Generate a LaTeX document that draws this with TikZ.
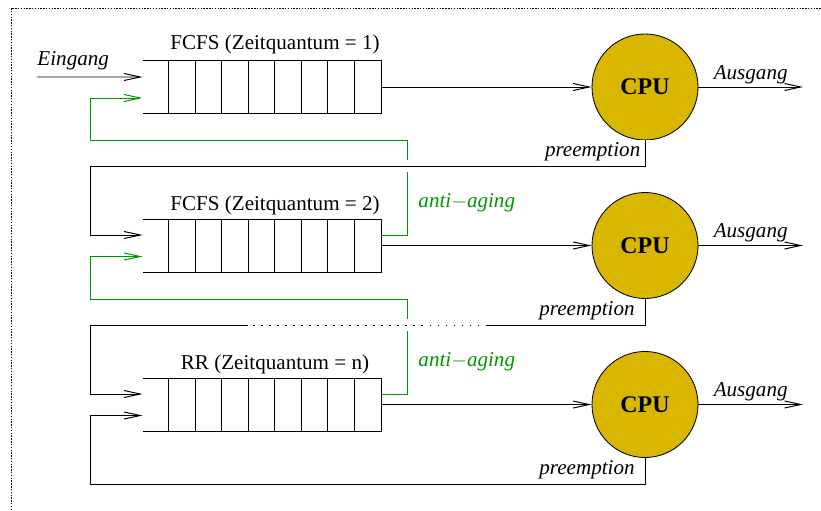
\documentclass[tikz,border=0pt]{standalone}
\usepackage{fontspec}
\setmainfont{Liberation Serif}
\usepackage{xcolor}
\usepackage{tikz}
\usetikzlibrary{positioning}
\usetikzlibrary{arrows.meta}
\usetikzlibrary{calc}

\definecolor{cpugold}{RGB}{217,183,0}
\definecolor{aginggreen}{RGB}{0,150,0}

\begin{document}
\begin{tikzpicture}[scale=1.0,
		every node/.style={font=\fontsize{15}{18}\selectfont},
		line width=0.7pt,
		>={Straight Barb[length=11.5pt,width=5pt]},
		frame/.style={line width=0.5pt, dash pattern=on 1pt off 1pt},
		queue/.style={minimum width=5.95cm, minimum height=1.3cm, inner sep=0pt},
		cpu/.style={circle, draw, line width=0.6pt, fill=cpugold, minimum size=2.65cm, inner sep=0pt, font=\fontsize{17}{20}\selectfont\bfseries},
		aging/.style={aginggreen},
		back/.style={preaction={draw=white, line width=8.5pt, solid, -}},
		dots/.style={dash pattern=on 1pt off 4.7pt},
		lbl/.style={font=\fontsize{15}{18}\selectfont\itshape, inner sep=2pt}]

		% Bounding box and frame
		\useasboundingbox (0,0) rectangle (20.525,12.75);
		\draw[frame] (0.275,0) -- (0.275,12.55) -- (20.525,12.55);

		% Queues and CPUs
		\node[queue] (q1) at (6.55,10.575) {};
		\node[queue] (q2) at (6.55,6.6125) {};
		\node[queue] (q3) at (6.55,2.6375) {};
		\node[cpu] (cpu1) at (16.125,10.575) {CPU};
		\node[cpu] (cpu2) at (16.125,6.6125) {CPU};
		\node[cpu] (cpu3) at (16.125,2.6375) {CPU};

		% Draw queue slots
		\foreach \q in {q1,q2,q3} {
			\draw (\q.north west) -- (\q.north east) -- (\q.south east) -- (\q.south west);
			\foreach \i in {1,...,8}
				\draw ($(\q.north west)+(\i*0.6611,0)$) -- ($(\q.south west)+(\i*0.6611,0)$);
		}

		% Entry and exit points
		\coordinate (q1a) at ($(q1.west)+(0,0.25)$);
		\coordinate (q1b) at ($(q1.west)+(0,-0.275)$);
		\coordinate (q2a) at ($(q2.west)+(0,0.2625)$);
		\coordinate (q2b) at ($(q2.west)+(0,-0.275)$);
		\coordinate (q3a) at ($(q3.west)+(0,0.2625)$);
		\coordinate (q3b) at ($(q3.west)+(0,-0.275)$);
		\coordinate (q2g) at ($(q2.east)+(0,0.2625)$);
		\coordinate (q3g) at ($(q3.east)+(0,0.2625)$);
		\coordinate (in) at (0.925,10.825);
		\coordinate (out1) at (20.075,10.575);
		\coordinate (out2) at (20.075,6.6125);
		\coordinate (out3) at (20.075,2.6375);

		% Corners of the return lines
		\coordinate (p1) at (2.25,8.6);
		\coordinate (p2) at (2.25,4.625);
		\coordinate (p3) at (2.25,0.65);
		\coordinate (d2r) at (12.175,4.625);
		\coordinate (d2l) at (6.2,4.625);
		\coordinate (g1) at (10.175,9.25);
		\coordinate (g2) at (10.175,5.275);
		\coordinate (g1l) at (2.25,9.25);
		\coordinate (g2l) at (2.25,5.275);

		% Anti-aging feedback
		\draw[aging,->] (q2g) -| (g1) -- (g1l) |- (q1b);
		\draw[aging,->] (q3g) -| (g2) -- (g2l) |- (q2b);

		% Forward flow
		\draw[->] (in) -- (q1a);
		\draw[->] (q1.east) -- (cpu1.west);
		\draw[->] (q2.east) -- (cpu2.west);
		\draw[->] (q3.east) -- (cpu3.west);
		\draw[->] (cpu1.east) -- (out1) node[lbl, midway, above] (aus1) {Ausgang};
		\draw[->] (cpu2.east) -- (out2) node[lbl, midway, above] (aus2) {Ausgang};
		\draw[->] (cpu3.east) -- (out3) node[lbl, midway, above] (aus3) {Ausgang};

		% Preemption back to the next queue
		\draw[back,->] (cpu1.south) |- (p1) |- (q2a);
		\draw[back] (cpu2.south) |- (d2r);
		\draw[back, dots] (d2r) -- (d2l);
		\draw[->] (d2l) -- (p2) |- (q3a);
		\draw[->] (cpu3.south) |- (p3) |- (q3b);

		% Labels
		\node[lbl, anchor=base west, inner sep=0pt] (ein) at (0.925,11.1) {Eingang};
		\node[anchor=base] (t1) at ($(q1.north)+(0.325,0.27)$) {FCFS (Zeitquantum = 1)};
		\node[anchor=base] (t2) at ($(q2.north)+(0.325,0.22)$) {FCFS (Zeitquantum = 2)};
		\node[anchor=base] (t3) at ($(q3.north)+(0.325,0.22)$) {RR (Zeitquantum = n)};
		\node[lbl, anchor=south east, inner sep=3pt] (pre1) at (cpu1.south |- p1) {preemption};
		\node[lbl, anchor=south east, inner sep=3pt, xshift=-4pt] (pre2) at (cpu2.south |- p2) {preemption};
		\node[lbl, anchor=south east, inner sep=3pt, xshift=-4pt] (pre3) at (cpu3.south |- p3) {preemption};
		\node[lbl, aging, anchor=west, inner sep=0pt] (aa1) at (10.45,7.675) {anti$-$aging};
		\node[lbl, aging, anchor=west, inner sep=0pt] (aa2) at (10.45,3.7) {anti$-$aging};
	\end{tikzpicture}
\end{document}
